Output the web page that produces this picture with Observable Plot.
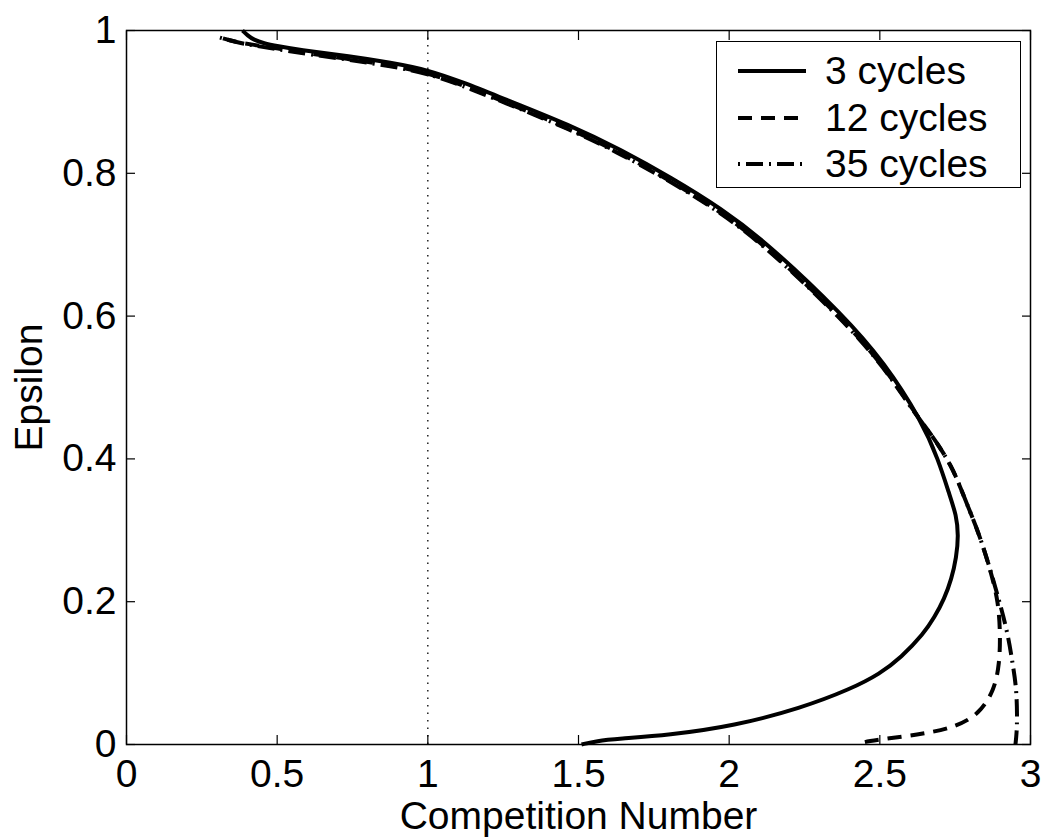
<!DOCTYPE html>
<html><head><meta charset="utf-8">
<script src="https://cdn.jsdelivr.net/npm/d3@7"></script>
<script src="https://cdn.jsdelivr.net/npm/@observablehq/plot@0.6"></script>
<style>
body{margin:0;background:#fff;font-family:"Liberation Sans",Arial,sans-serif}
#wrap{position:relative;width:1045px;height:838px}
#legend{position:absolute;left:716px;top:41px;width:305px;height:147px;border:1.5px solid #000;background:#fff;box-sizing:border-box}
.row{position:absolute;left:0;height:40px;display:flex;align-items:center}
.row span{font-size:39px;color:#000;margin-left:8px}
</style></head>
<body><div id="wrap"></div>
<script>
// ---- data ----
const seriesNames = ["3 cycles", "12 cycles", "35 cycles"];
const cycles3X = [0.385,0.402,0.422,0.455,0.502,0.568,0.744,0.877,1.0,1.126,1.243,1.475,1.641,1.807,1.973,2.133,2.379,2.515,2.638,2.694,2.731,2.754,2.761,2.754,2.738,2.714,2.681,2.645,2.571,2.50,2.405,2.239,2.017,1.797,1.631,1.56,1.51];
const cycles3Y = [1.0,0.993,0.987,0.982,0.978,0.973,0.964,0.955,0.945,0.926,0.906,0.867,0.833,0.794,0.751,0.700,0.601,0.535,0.454,0.399,0.350,0.321,0.293,0.262,0.232,0.204,0.178,0.155,0.122,0.099,0.078,0.051,0.026,0.013,0.008,0.005,0.0];
const cycles12X = [0.32,0.36,0.42,0.50,0.60,0.74,0.877,1.0,1.126,1.243,1.475,1.641,1.807,1.973,2.133,2.379,2.515,2.62,2.67,2.74,2.78,2.83,2.87,2.893,2.90,2.897,2.88,2.83,2.755,2.65,2.50,2.44,2.43];
const cycles12Y = [0.989,0.984,0.980,0.975,0.968,0.960,0.951,0.941,0.922,0.902,0.862,0.828,0.789,0.746,0.694,0.595,0.529,0.462,0.435,0.39,0.346,0.295,0.24,0.20,0.155,0.113,0.076,0.043,0.025,0.015,0.007,0.003,0.0];
const cycles35X = [0.31,0.36,0.42,0.50,0.60,0.74,0.877,1.0,1.126,1.243,1.475,1.641,1.807,1.973,2.133,2.379,2.515,2.62,2.67,2.74,2.78,2.83,2.87,2.897,2.925,2.942,2.953,2.956,2.954,2.95];
const cycles35Y = [0.990,0.984,0.979,0.974,0.967,0.959,0.950,0.940,0.921,0.901,0.861,0.827,0.788,0.745,0.693,0.594,0.528,0.461,0.435,0.39,0.346,0.295,0.24,0.20,0.155,0.11,0.08,0.04,0.015,0.0];
const xTicks = [0, 0.5, 1, 1.5, 2, 2.5, 3];
const xTickLabels = ["0", "0.5", "1", "1.5", "2", "2.5", "3"];
const yTicks = [0, 0.2, 0.4, 0.6, 0.8, 1];
const yTickLabels = ["0", "0.2", "0.4", "0.6", "0.8", "1"];
const refLineX = [1];
const xLabel = "Competition Number";
const yLabel = "Epsilon";

// ---- build table ----
const seriesXY = [[cycles3X, cycles3Y], [cycles12X, cycles12Y], [cycles35X, cycles35Y]];
const rows = seriesNames.flatMap((s, i) => seriesXY[i][0].map((x, j) => ({series: s, x, y: seriesXY[i][1][j]})));
const dashes = {"3 cycles": null, "12 cycles": "14,9", "35 cycles": "2,6,17,6"};
const font = '"Liberation Sans", Arial, sans-serif';
const fmtX = d => xTickLabels[xTicks.indexOf(d)];
const fmtY = d => yTickLabels[yTicks.indexOf(d)];
const blank = () => "";

const lineMarks = [...seriesNames].reverse().map(s =>
  Plot.line(rows.filter(r => r.series === s), {x: "x", y: "y", stroke: "#000", strokeWidth: 4, strokeDasharray: dashes[s], curve: "basis", strokeLinecap: "butt"}));

const chart = Plot.plot({
  width: 1045, height: 838,
  marginLeft: 126, marginRight: 15, marginTop: 30, marginBottom: 94,
  style: {fontFamily: font, fontSize: "39px", color: "#000", background: "#fff"},
  x: {domain: [0, 3]},
  y: {domain: [0, 1]},
  marks: [
    Plot.ruleX(refLineX, {stroke: "#000", strokeWidth: 1.3, strokeDasharray: "1.5,6"}),
    ...lineMarks,
    Plot.frame({stroke: "#000", strokeWidth: 1.5}),
    Plot.axisX(xTicks, {anchor: "bottom", tickSize: -9, tickFormat: blank, label: null, strokeWidth: 1.2}),
    Plot.axisX(xTicks, {anchor: "top", tickSize: -9, tickFormat: blank, label: null, strokeWidth: 1.2}),
    Plot.axisY(yTicks, {anchor: "left", tickSize: -9, tickFormat: blank, label: null, strokeWidth: 1.2}),
    Plot.axisY(yTicks, {anchor: "right", tickSize: -9, tickFormat: blank, label: null, strokeWidth: 1.2}),
    Plot.axisX(xTicks, {anchor: "bottom", tickSize: 0, tickPadding: 15, tickFormat: fmtX, fontSize: 39, label: xLabel, labelAnchor: "center", labelOffset: 84, labelArrow: "none"}),
    Plot.axisY(yTicks, {anchor: "left", tickSize: 0, tickPadding: 10, tickFormat: fmtY, fontSize: 39, label: yLabel, labelAnchor: "center", labelOffset: 112, labelArrow: "none"})
  ]
});
const wrap = document.getElementById("wrap");
wrap.appendChild(chart);

// ---- legend overlay ----
const legend = document.createElement("div");
legend.id = "legend";
seriesNames.forEach((s, i) => {
  const row = document.createElement("div");
  row.className = "row";
  row.style.top = (9 + i * 46.5) + "px";
  const dash = dashes[s] ? ` stroke-dasharray="${dashes[s]}"` : "";
  row.innerHTML = `<svg width="100" height="40" style="display:block"><line x1="21" x2="89" y1="20" y2="20" stroke="#000" stroke-width="4"${dash}/></svg><span>${s}</span>`;
  legend.appendChild(row);
});
wrap.appendChild(legend);
</script>
</body></html>
